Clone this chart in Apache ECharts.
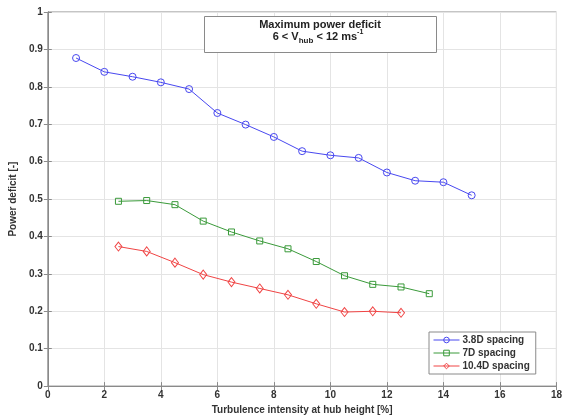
<!DOCTYPE html>
<html>
<head>
<meta charset="utf-8">
<script src="https://cdn.jsdelivr.net/npm/echarts@6/dist/echarts.min.js"></script>
<style>
html,body{margin:0;padding:0;background:#fff;}
#chart{width:565px;height:420px;}
</style>
</head>
<body>
<div id="chart"></div>
<script>
// Data
const xBlue = [1,2,3,4,5,6,7,8,9,10,11,12,13,14,15];
const yBlue = [0.877,0.840,0.827,0.812,0.794,0.730,0.699,0.666,0.628,0.617,0.610,0.571,0.549,0.545,0.510];
const xGreen = [2.5,3.5,4.5,5.5,6.5,7.5,8.5,9.5,10.5,11.5,12.5,13.5];
const yGreen = [0.494,0.496,0.485,0.441,0.412,0.388,0.367,0.333,0.295,0.272,0.265,0.247];
const xRed = [2.5,3.5,4.5,5.5,6.5,7.5,8.5,9.5,10.5,11.5,12.5];
const yRed = [0.373,0.360,0.330,0.298,0.278,0.261,0.244,0.220,0.198,0.200,0.196];
const seriesNames = ['3.8D spacing','7D spacing','10.4D spacing'];
const xTicks = [0,2,4,6,8,10,12,14,16,18];
const yTicks = [0,0.1,0.2,0.3,0.4,0.5,0.6,0.7,0.8,0.9,1];
const xName = 'Turbulence intensity at hub height [%]';
const yName = 'Power deficit [-]';

const font = 'Arial, "Liberation Sans", Helvetica, sans-serif';
const txt = '#333';
const colors = ['#4848f0', '#3a9a3a', '#f04444'];
const zip = (xs, ys) => xs.map((x, i) => [x, ys[i]]);
const hollow = c => ({color: 'rgba(255,255,255,0)', borderColor: c, borderWidth: 1});

const chart = echarts.init(document.getElementById('chart'), null, {renderer: 'canvas'});
const axisCommonX = {
  type: 'value', min: xTicks[0], max: xTicks[xTicks.length-1], interval: 2,
};
const axisCommonY = {
  type: 'value', min: yTicks[0], max: yTicks[yTicks.length-1], interval: 0.1,
};
chart.setOption({
  animation: false,
  backgroundColor: '#fff',
  textStyle: {fontFamily: font},
  grid: {left: 44, right: 3, top: 12, bottom: 30, show: true, borderColor: '#8a8a8a', borderWidth: 1, containLabel: false},
  xAxis: [
    Object.assign({}, axisCommonX, {
      position: 'bottom',
      name: xName, nameLocation: 'middle', nameGap: 15,
      nameTextStyle: {fontSize: 10, fontWeight: 'bold', color: txt, fontFamily: font},
      axisLine: {show: true, lineStyle: {color: '#8a8a8a', width: 1}},
      axisTick: {show: true, inside: true, length: 4, lineStyle: {color: '#8a8a8a'}},
      axisLabel: {fontSize: 10, fontWeight: 'bold', color: txt, margin: 4, fontFamily: font,
        formatter: v => String(Math.round(v))},
      splitLine: {show: true, lineStyle: {color: '#e4e4e4', width: 1}}
    }),
    Object.assign({}, axisCommonX, {
      position: 'top',
      axisLine: {show: true, lineStyle: {color: '#8a8a8a', width: 1}},
      axisTick: {show: true, inside: true, length: 4, lineStyle: {color: '#8a8a8a'}},
      axisLabel: {show: false},
      splitLine: {show: false}
    })
  ],
  yAxis: [
    Object.assign({}, axisCommonY, {
      position: 'left',
      name: yName, nameLocation: 'middle', nameGap: 23, nameRotate: 90,
      nameTextStyle: {fontSize: 10, fontWeight: 'bold', color: txt, fontFamily: font},
      axisLine: {show: true, lineStyle: {color: '#8a8a8a', width: 1}},
      axisTick: {show: true, inside: true, length: 4, lineStyle: {color: '#8a8a8a'}},
      axisLabel: {fontSize: 10, fontWeight: 'bold', color: txt, margin: 5, fontFamily: font,
        formatter: v => String(Math.round(v*10)/10)},
      splitLine: {show: true, lineStyle: {color: '#e4e4e4', width: 1}}
    }),
    Object.assign({}, axisCommonY, {
      position: 'right',
      axisLine: {show: true, lineStyle: {color: '#8a8a8a', width: 1}},
      axisTick: {show: true, inside: true, length: 4, lineStyle: {color: '#8a8a8a'}},
      axisLabel: {show: false},
      splitLine: {show: false}
    })
  ],
  legend: {
    orient: 'vertical', left: 429, top: 332,
    backgroundColor: '#fff', borderColor: '#8a8a8a', borderWidth: 1, borderRadius: 0,
    padding: [3, 6, 3, 4], itemGap: 3, itemWidth: 26, itemHeight: 7,
    textStyle: {fontSize: 10, fontWeight: 'bold', color: txt, fontFamily: font, padding: [0,0,0,-2]},
    data: seriesNames.map((n, i) => ({
      name: n,
      itemStyle: hollow(colors[i]),
      lineStyle: {width: 1, color: colors[i]}
    }))
  },
  graphic: [
    {type: 'rect', left: 204, top: 16, shape: {width: 232, height: 36},
     style: {fill: '#fff', stroke: '#8a8a8a', lineWidth: 1}, z: 100},
    {type: 'text', x: 320, y: 25, z: 101,
     style: {text: 'Maximum power deficit', font: 'bold 11px ' + font, fill: '#222', align: 'center', verticalAlign: 'middle'}},
    {type: 'text', x: 318, y: 37, z: 101,
     style: {
       text: '{a|6 < V}{sub|hub}{a| < 12 ms}{sup|-1}',
       align: 'center', verticalAlign: 'middle',
       rich: {
         a: {font: 'bold 11px ' + font, fill: '#222', lineHeight: 16, verticalAlign: 'middle'},
         sub: {font: 'bold 8px ' + font, fill: '#222', lineHeight: 16, verticalAlign: 'bottom', padding: [10,0,0,0]},
         sup: {font: 'bold 7px ' + font, fill: '#222', lineHeight: 16, verticalAlign: 'top', padding: [0,0,8,0]}
       }
     }}
  ],
  series: [
    {name: seriesNames[0], type: 'line', data: zip(xBlue, yBlue), symbol: 'circle', symbolSize: 7,
     color: colors[0], lineStyle: {width: 1, color: colors[0]}, itemStyle: hollow(colors[0])},
    {name: seriesNames[1], type: 'line', data: zip(xGreen, yGreen), symbol: 'rect', symbolSize: 6,
     color: colors[1], lineStyle: {width: 1, color: colors[1]}, itemStyle: hollow(colors[1])},
    {name: seriesNames[2], type: 'line', data: zip(xRed, yRed), symbol: 'diamond', symbolSize: [7, 9],
     color: colors[2], lineStyle: {width: 1, color: colors[2]}, itemStyle: hollow(colors[2])}
  ]
});
</script>
</body>
</html>
